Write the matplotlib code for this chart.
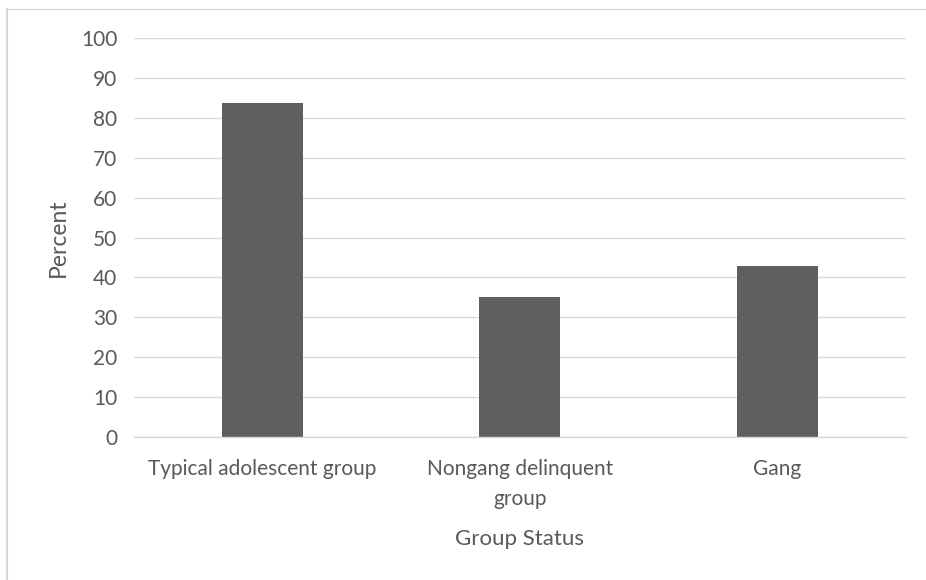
import matplotlib

matplotlib.use("Agg")
import matplotlib.pyplot as plt  # noqa: E402
from matplotlib.lines import Line2D  # noqa: E402

# Share of each group, in percent
groups = ["Typical adolescent group", "Nongang delinquent\ngroup", "Gang"]
percent = [83.7, 35.1, 42.8]
y_ticks = list(range(0, 101, 10))

TEXT = "#595959"
GRID = "#d9d9d9"
BAR = "#5f5f5f"

plt.rcParams["font.family"] = ["Lato", "DejaVu Sans"]

W, H = 926, 580
fig = plt.figure(figsize=(W / 100, H / 100), dpi=100)
ax = fig.add_axes([0.1447, 0.247, 0.8333, 0.687])

ax.bar(range(len(groups)), percent, width=0.315, color=BAR, zorder=3)

ax.set_xlim(-0.5, len(groups) - 0.5)
ax.set_ylim(0, 100)
ax.set_yticks(y_ticks)
ax.set_xticks(range(len(groups)))
ax.set_xticklabels(groups, linespacing=1.65)
ax.grid(axis="y", color=GRID, linewidth=1.0, zorder=0)

for side in ("top", "right", "left"):
    ax.spines[side].set_visible(False)
ax.spines["bottom"].set_color(GRID)
ax.spines["bottom"].set_linewidth(1.0)
ax.spines["bottom"].set_zorder(4)

ax.tick_params(axis="both", length=0, labelsize=15, labelcolor=TEXT)
ax.tick_params(axis="y", pad=12)
ax.tick_params(axis="x", pad=16)

ax.set_ylabel("Percent", fontsize=16.5, color=TEXT, labelpad=9)
ax.set_xlabel("Group Status", fontsize=16, color=TEXT, labelpad=14)

# Chart frame: only the top and left edges fall inside the canvas
fig.add_artist(Line2D([7 / W, 1.0], [1 - 9 / H, 1 - 9 / H],
                      transform=fig.transFigure, color=GRID, linewidth=1.0))
fig.add_artist(Line2D([7 / W, 7 / W], [0.0, 1 - 9 / H],
                      transform=fig.transFigure, color=GRID, linewidth=1.5))

fig.savefig("out.png", dpi=100)
